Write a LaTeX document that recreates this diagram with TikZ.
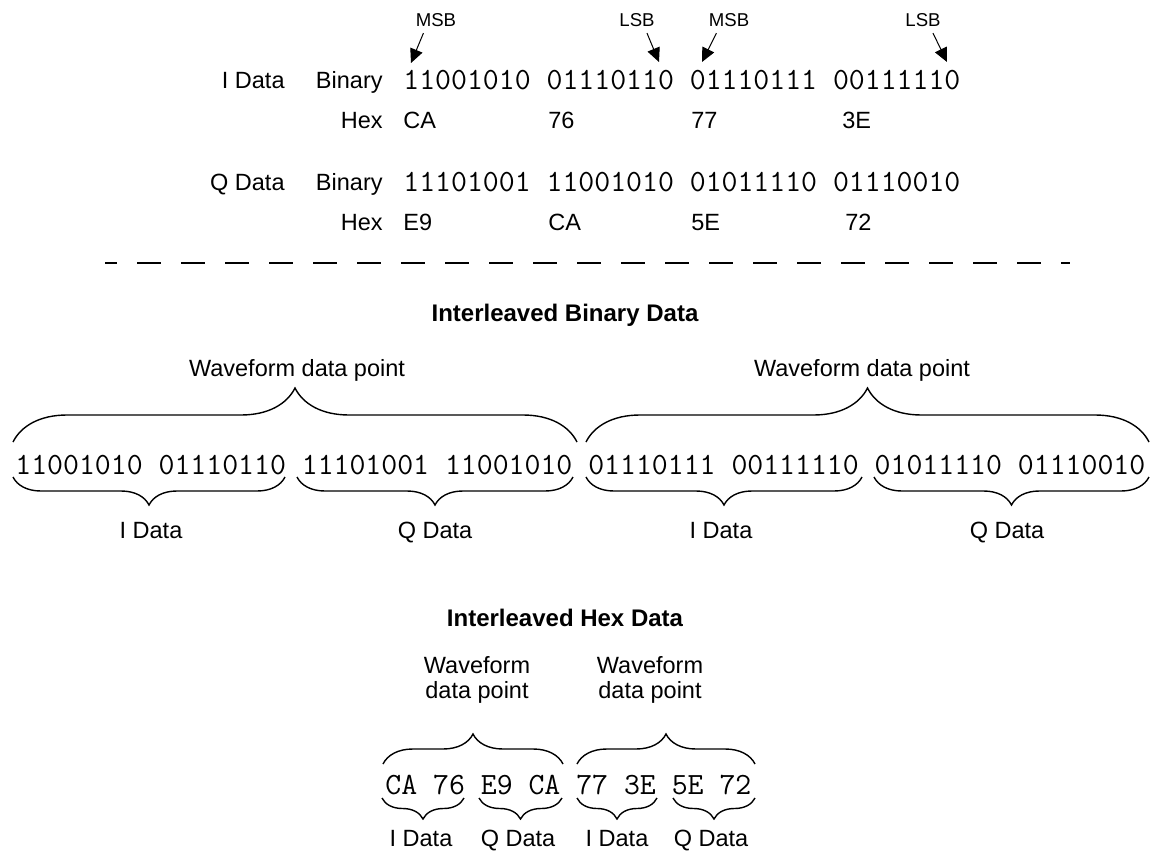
\documentclass[tikz,border=0pt]{standalone}
\usepackage{fontspec}
\setmainfont{Liberation Sans}
\usetikzlibrary{arrows.meta,decorations.pathreplacing}

\begin{document}
\begin{tikzpicture}[x=0.5pt,y=-0.5pt,
  txt/.style={inner sep=0pt,font=\fontsize{11.75}{12.5}\selectfont,text height=8.4pt,text depth=0pt},
  twoline/.style={inner sep=0pt,font=\fontsize{11.75}{12.5}\selectfont,align=center},
  small/.style={inner sep=0pt,font=\fontsize{9.3}{11}\selectfont,text height=6.7pt,text depth=0pt},
  bits/.style={inner sep=0pt,font=\ttfamily\fontsize{15.45}{16}\selectfont,text height=9.2pt,text depth=0pt,anchor=west},
  title/.style={inner sep=0pt,font=\fontsize{12}{14}\selectfont\bfseries,text height=8.6pt,text depth=0pt},
  bitarrow/.style={-{Triangle[length=7pt,width=6.5pt]},line width=0.5pt},
  upbrace/.style={decorate,decoration={brace,amplitude=#1},line width=0.7pt},
  downbrace/.style={decorate,decoration={brace,mirror,amplitude=#1},line width=0.7pt},
  sepline/.style={line width=1.3pt,dash pattern=on 12pt off 10pt,dash phase=6pt}]
\useasboundingbox (0,0) rectangle (1153,857);

\node[small] (msbA) at (436,20) {MSB};
\node[small] (lsbA) at (637,20) {LSB};
\node[small] (msbB) at (729,20) {MSB};
\node[small] (lsbB) at (923,20) {LSB};
\coordinate (tipA) at (411,63);
\coordinate (tipB) at (659,62);
\coordinate (tipC) at (702,62);
\coordinate (tipD) at (947,62);
\draw[bitarrow] ([xshift=4pt,yshift=-3pt]msbA.south west) -- (tipA);
\draw[bitarrow] ([xshift=-4pt,yshift=-3pt]lsbA.south east) -- (tipB);
\draw[bitarrow] ([xshift=4pt,yshift=-3pt]msbB.south west) -- (tipC);
\draw[bitarrow] ([xshift=-4pt,yshift=-3pt]lsbB.south east) -- (tipD);

\node[txt,anchor=east] (iName) at (285,80) {I Data};
\node[txt,anchor=east] (iBinLbl) at (383,80) {Binary};
\node[bits] (iBits) at (403,80) {11001010 01110110 01110111 00111110};
\node[txt,anchor=east] (iHexLbl) at (383,120) {Hex};
\node[txt,anchor=west] (iHexA) at (403,120) {CA};
\node[txt,anchor=west] (iHexB) at (548,120) {76};
\node[txt,anchor=west] (iHexC) at (691,120) {77};
\node[txt,anchor=west] (iHexD) at (842,120) {3E};

\node[txt,anchor=east] (qName) at (285,182) {Q Data};
\node[txt,anchor=east] (qBinLbl) at (383,182) {Binary};
\node[bits] (qBits) at (403,182) {11101001 11001010 01011110 01110010};
\node[txt,anchor=east] (qHexLbl) at (383,222) {Hex};
\node[txt,anchor=west] (qHexA) at (403,222) {E9};
\node[txt,anchor=west] (qHexB) at (548,222) {CA};
\node[txt,anchor=west] (qHexC) at (691,222) {5E};
\node[txt,anchor=west] (qHexD) at (845,222) {72};

\coordinate (sepL) at (105,263);
\coordinate (sepR) at (1070,263);
\draw[sepline] (sepL) -- (sepR);

\node[title] (binTitle) at (565,313) {Interleaved Binary Data};
\node[txt] (binWfA) at (297,368) {Waveform data point};
\node[txt] (binWfB) at (862,368) {Waveform data point};
\coordinate (bwA1) at (13,442);
\coordinate (bwA2) at (577,442);
\coordinate (bwB1) at (586,442);
\coordinate (bwB2) at (1149,442);
\draw[upbrace=27pt] (bwA1) -- (bwA2);
\draw[upbrace=27pt] (bwB1) -- (bwB2);
\node[bits] (binRow) at (15,465) {11001010 01110110 11101001 11001010 01110111 00111110 01011110 01110010};
\coordinate (biA1) at (13,477);
\coordinate (biA2) at (285,477);
\coordinate (bqA1) at (297,477);
\coordinate (bqA2) at (573,477);
\coordinate (biB1) at (586,477);
\coordinate (biB2) at (862,477);
\coordinate (bqB1) at (874,477);
\coordinate (bqB2) at (1149,477);
\draw[downbrace=14pt] (biA1) -- (biA2);
\draw[downbrace=14pt] (bqA1) -- (bqA2);
\draw[downbrace=14pt] (biB1) -- (biB2);
\draw[downbrace=14pt] (bqB1) -- (bqB2);
\node[txt] (binIA) at (151,530) {I Data};
\node[txt] (binQA) at (435,530) {Q Data};
\node[txt] (binIB) at (721,530) {I Data};
\node[txt] (binQB) at (1007,530) {Q Data};

\node[title] (hexTitle) at (565,618) {Interleaved Hex Data};
\node[twoline] (hexWfA) at (477,680) {Waveform\\data point};
\node[twoline] (hexWfB) at (650,680) {Waveform\\data point};
\coordinate (hwA1) at (383,764);
\coordinate (hwA2) at (563,764);
\coordinate (hwB1) at (577,764);
\coordinate (hwB2) at (755,764);
\draw[upbrace=15pt] (hwA1) -- (hwA2);
\draw[upbrace=15pt] (hwB1) -- (hwB2);
\node[bits] (hexRow) at (385,785) {CA 76 E9 CA 77 3E 5E 72};
\coordinate (hiA1) at (382,798);
\coordinate (hiA2) at (464,798);
\coordinate (hqA1) at (479,798);
\coordinate (hqA2) at (562,798);
\coordinate (hiB1) at (577,798);
\coordinate (hiB2) at (657,798);
\coordinate (hqB1) at (673,798);
\coordinate (hqB2) at (755,798);
\draw[downbrace=10.5pt] (hiA1) -- (hiA2);
\draw[downbrace=10.5pt] (hqA1) -- (hqA2);
\draw[downbrace=10.5pt] (hiB1) -- (hiB2);
\draw[downbrace=10.5pt] (hqB1) -- (hqB2);
\node[txt] (hexIA) at (421,838) {I Data};
\node[txt] (hexQA) at (518,838) {Q Data};
\node[txt] (hexIB) at (617,838) {I Data};
\node[txt] (hexQB) at (711,838) {Q Data};
\end{tikzpicture}
\end{document}
